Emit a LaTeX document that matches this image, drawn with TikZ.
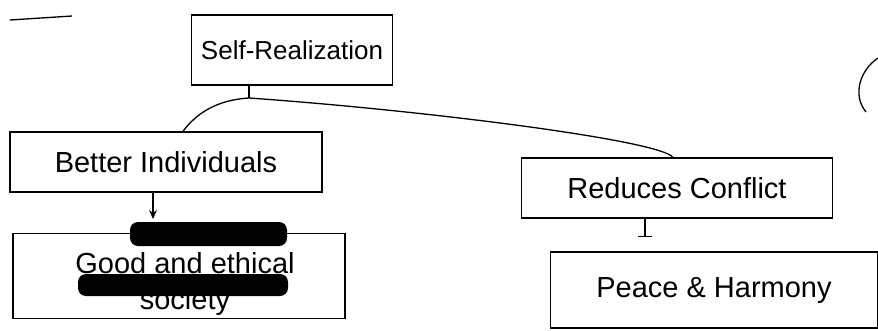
\documentclass[tikz,border=0pt]{standalone}
\usetikzlibrary{arrows.meta}
\usepackage{fontspec}
\setmainfont{Liberation Sans}
\begin{document}
\begin{tikzpicture}[x=1pt,y=-1pt,
  box/.style={draw=black,line width=1.3pt,inner sep=0pt,font=\fontsize{29}{36}\selectfont},
  lbl/.style={inner sep=0pt,font=\fontsize{29}{36}\selectfont,align=center},
  link/.style={draw=black,line width=1.3pt},
  blob/.style={fill=black,rounded corners=8pt}]
\useasboundingbox (0,0) rectangle (878,330);
% boxes
\node[box,minimum width=201pt,minimum height=70pt,font=\fontsize{26}{30}\selectfont] (sr) at (292,50) {Self-Realization};
\node[box,minimum width=312pt,minimum height=60pt] (bi) at (166,162) {Better Individuals};
\node[box,minimum width=311pt,minimum height=60pt] (rc) at (677,188) {Reduces Conflict};
\node[box,minimum width=332pt,minimum height=85pt] (ge) at (179,276) {};
\node[lbl] (get) at (185,284) {Good and ethical\\society};
\node[box,minimum width=327pt,minimum height=76pt] (ph) at (714,290) {Peace \& Harmony};
% redaction scribbles
\fill[blob] (130,222) rectangle (287,246);
\fill[blob] (78,274) rectangle (288,296);
% connectors
\coordinate (j) at (249,98);
\coordinate (a1) at (153,219);
\coordinate (a2) at (645,237);
\draw[link] (sr.south -| j) -- (j);
\draw[link] (j) .. controls (215,100) and (195,115) .. (bi.north -| 183,0);
\draw[link] (j) .. controls (420,110) and (660,140) .. (rc.north -| 673,0);
\draw[link,-{Stealth[length=9pt,width=8pt]}] (bi.south -| a1) -- (a1);
\draw[link,-{Bar[width=14pt]}] (rc.south -| a2) -- (a2);
% fragments at the edges
\coordinate (ul1) at (10,20);
\coordinate (ul2) at (72,16);
\draw[link] (ul1) -- (ul2);
\draw[link] (878,58) .. controls (860,70) and (852,95) .. (866,112);
\end{tikzpicture}
\end{document}
